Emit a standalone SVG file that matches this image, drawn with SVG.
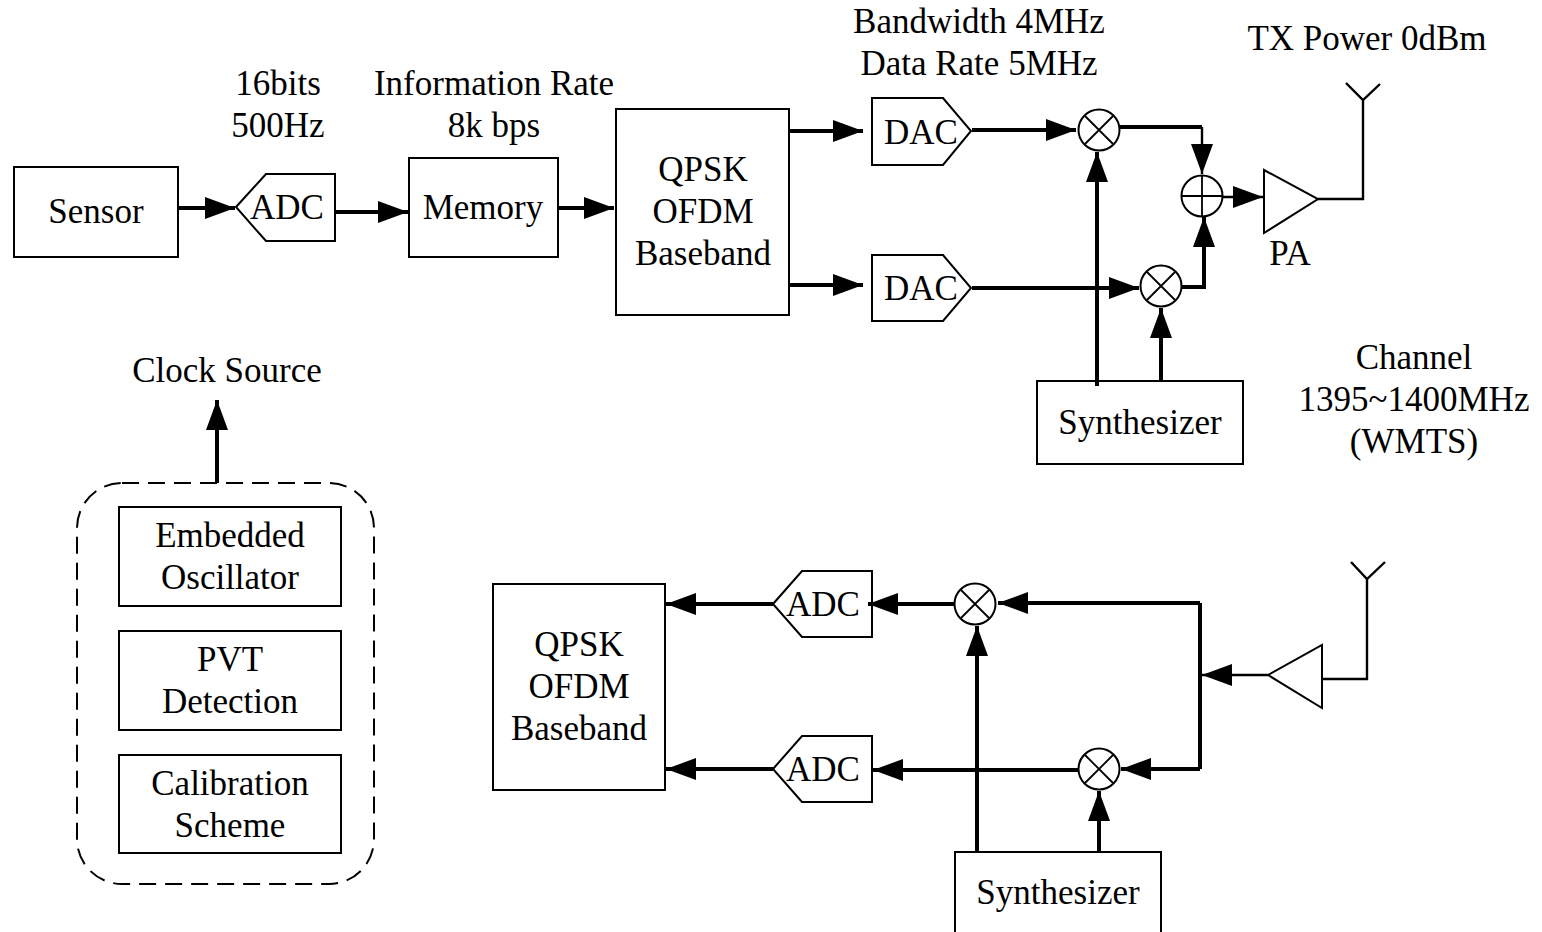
<svg xmlns="http://www.w3.org/2000/svg" width="1542" height="932" viewBox="0 0 1542 932">
<style>
text{font-family:"Liberation Serif","Times New Roman",serif;font-size:35px;fill:#000;text-anchor:middle}
.s{fill:#fff;stroke:#000;stroke-width:2}
.n{fill:none;stroke:#000;stroke-width:1.8}
.w{fill:none;stroke:#000;stroke-width:4}
.t{fill:none;stroke:#000;stroke-width:2.4}
.a{marker-end:url(#a)}
</style>
<defs>
<marker id="a" markerUnits="userSpaceOnUse" markerWidth="32" markerHeight="24" refX="30" refY="11" orient="auto"><path d="M0 0L30 11L0 22Z" fill="#000"/></marker>
</defs>
<rect width="1542" height="932" fill="#fff"/>
<g id="sensor"><rect class="s" x="14" y="167" width="164" height="90"/><text x="96" y="223">Sensor</text></g>
<g id="adc-tx"><path class="s" d="M236 207L266 174H335V241H266Z"/><text x="287" y="219">ADC</text></g>
<g id="memory"><rect class="s" x="409" y="158" width="149" height="99"/><text x="483" y="219">Memory</text></g>
<g id="baseband-tx"><rect class="s" x="616" y="109" width="173" height="206"/><text x="703" y="181">QPSK</text><text x="703" y="223">OFDM</text><text x="703" y="265">Baseband</text></g>
<g id="dac-i"><path class="s" d="M872 98H943L971 131L943 165H872Z"/><text x="921" y="144">DAC</text></g>
<g id="dac-q"><path class="s" d="M872 255H943L971 288L943 321H872Z"/><text x="921" y="300">DAC</text></g>
<g id="mixer-i"><circle class="s" cx="1099" cy="130" r="20.5"/><path class="n" d="M1085 116L1113 144M1113 116L1085 144"/></g>
<g id="mixer-q"><circle class="s" cx="1161" cy="286" r="20.5"/><path class="n" d="M1147 272L1175 300M1175 272L1147 300"/></g>
<g id="adder"><circle class="s" cx="1202" cy="196" r="20.5"/><path class="n" d="M1181 196H1223M1202 175V217"/></g>
<g id="pa"><path class="s" d="M1264 170L1318 199L1264 233Z"/><text x="1290" y="265">PA</text></g>
<g id="synth-tx"><rect class="s" x="1037" y="381" width="206" height="83"/><text x="1140" y="434">Synthesizer</text></g>
<g id="clock"><rect x="77" y="483" width="297" height="401" rx="45" fill="none" stroke="#000" stroke-width="2" stroke-dasharray="17 9"/></g>
<g id="osc"><rect class="s" x="119" y="507" width="222" height="99"/><text x="230" y="547">Embedded</text><text x="230" y="589">Oscillator</text></g>
<g id="pvt"><rect class="s" x="119" y="631" width="222" height="99"/><text x="230" y="671">PVT</text><text x="230" y="713">Detection</text></g>
<g id="cal"><rect class="s" x="119" y="755" width="222" height="98"/><text x="230" y="795">Calibration</text><text x="230" y="837">Scheme</text></g>
<g id="baseband-rx"><rect class="s" x="493" y="584" width="172" height="206"/><text x="579" y="656">QPSK</text><text x="579" y="698">OFDM</text><text x="579" y="740">Baseband</text></g>
<g id="adc-rx-i"><path class="s" d="M773 604L802 571H872V637H802Z"/><text x="823" y="616">ADC</text></g>
<g id="adc-rx-q"><path class="s" d="M773 769L802 736H872V802H802Z"/><text x="823" y="781">ADC</text></g>
<g id="mixer-rx-i"><circle class="s" cx="975" cy="604" r="20.5"/><path class="n" d="M961 590L989 618M989 590L961 618"/></g>
<g id="mixer-rx-q"><circle class="s" cx="1099" cy="769" r="20.5"/><path class="n" d="M1085 755L1113 783M1113 755L1085 783"/></g>
<g id="lna"><path class="s" d="M1268 675L1322 645V708Z"/></g>
<g id="synth-rx"><path class="s" d="M955 932V852H1161V932"/><text x="1058" y="904">Synthesizer</text></g>
<g id="connectors">
<path class="w a" d="M178 208H235"/>
<path class="w a" d="M335 212H408"/>
<path class="w a" d="M558 208H614"/>
<path class="w a" d="M790 131H863"/>
<path class="w a" d="M790 285H863"/>
<path class="w a" d="M972 130H1076"/>
<path class="w a" d="M972 288H1139"/>
<path class="w" d="M1119 127H1202"/>
<path class="t a" d="M1202 127V174"/>
<path class="w a" d="M1181 287H1204V217"/>
<path class="t a" d="M1223 197H1263"/>
<path class="w a" d="M1097 386V152"/>
<path class="w a" d="M1161 381V308"/>
<path class="w a" d="M217 483V400"/>
<path class="t" d="M1318 199H1363V100"/>
<path class="t" d="M1346 83L1363 100L1380 84"/>
<path class="t" d="M1367 579V679H1322"/>
<path class="t" d="M1351 562L1367 579L1385 562"/>
<path class="t a" d="M1268 675H1202"/>
<path class="w" d="M1200 603V769"/>
<path class="w a" d="M1200 603H998"/>
<path class="w a" d="M1200 769H1121"/>
<path class="w a" d="M955 604H868"/>
<path class="w a" d="M1078 770H873"/>
<path class="w a" d="M773 604H666"/>
<path class="w a" d="M773 769H666"/>
<path class="w a" d="M977 852V626"/>
<path class="w a" d="M1099 852V791"/>
</g>
<g id="labels">
<text x="278" y="95">16bits</text><text x="278" y="137">500Hz</text>
<text x="494" y="95">Information Rate</text><text x="494" y="137">8k bps</text>
<text x="979" y="33">Bandwidth 4MHz</text><text x="979" y="75">Data Rate 5MHz</text>
<text x="1367" y="50">TX Power 0dBm</text>
<text x="227" y="382">Clock Source</text>
<text x="1414" y="369">Channel</text><text x="1414" y="411">1395~1400MHz</text><text x="1414" y="453">(WMTS)</text>
</g>
</svg>
